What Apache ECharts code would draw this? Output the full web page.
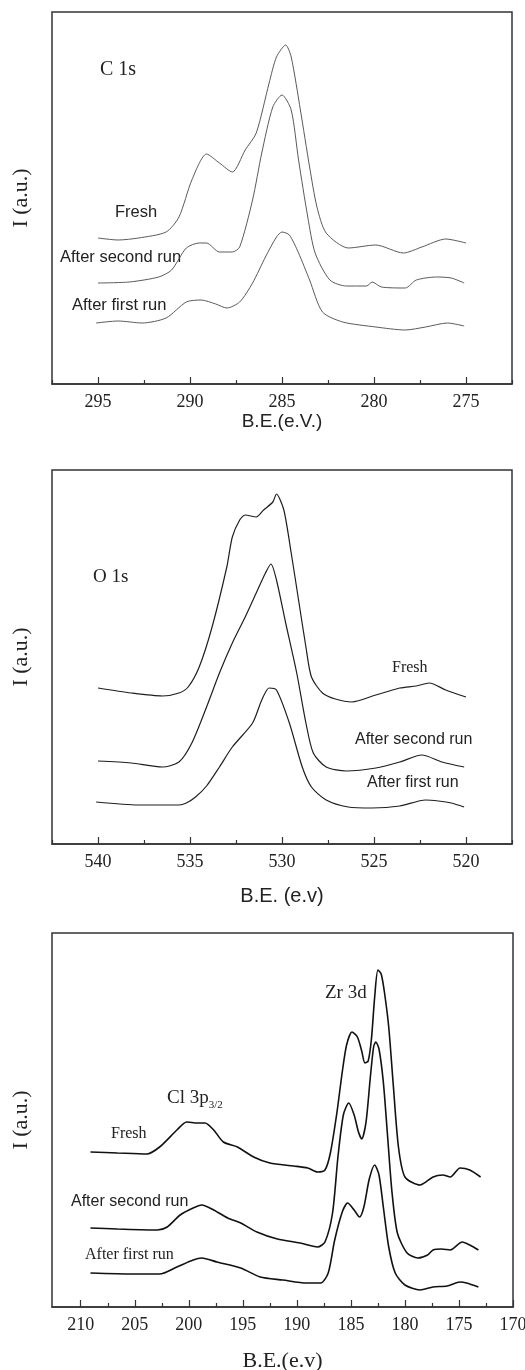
<!DOCTYPE html>
<html>
<head>
<meta charset="utf-8">
<script src="https://cdn.jsdelivr.net/npm/echarts@6/dist/echarts.min.js"></script>
<style>
  html, body { margin: 0; padding: 0; background: #fff; }
  #chart { width: 525px; height: 1370px; }
</style>
</head>
<body>
<div id="chart"></div>
<script>
// [B.E. (eV), intensity (a.u.)]
var c1sFresh = [[295.0,146],[293.9,144],[292.8,146],[291.3,152],[290.6,167],[289.9,204],[289.1,230],[288.4,221],[287.7,212],[287.0,234],[286.4,251],[285.7,301],[285.3,327],[284.8,339],[284.5,327],[284.0,274],[283.5,217],[283.1,177],[282.6,151],[281.4,136],[279.9,139],[278.4,131],[277.4,137],[276.1,145],[275.0,141]];
var c1sSecond = [[295.0,101],[293.3,102],[291.7,107],[291.0,114],[290.2,136],[289.5,141],[289.1,141],[288.4,132],[287.7,132],[287.3,137],[286.6,184],[286.1,231],[285.5,277],[285.0,289],[284.5,274],[284.1,224],[283.6,167],[283.2,131],[282.4,104],[281.5,98],[280.4,98],[280.1,102],[279.6,97],[278.3,96],[277.7,104],[276.6,107],[275.8,106],[275.1,101]];
var c1sFirst = [[295.1,61],[293.9,63],[292.6,61],[291.3,66],[290.2,82],[289.4,84],[288.6,80],[288.0,76],[287.3,82],[286.6,101],[285.9,127],[285.3,147],[285.0,152],[284.6,149],[284.1,131],[283.5,104],[282.8,72],[281.7,62],[279.9,57],[278.3,54],[277.2,57],[276.0,61],[275.1,58]];

var o1sFresh = [[540.0,156],[538.2,151],[536.5,148],[535.6,151],[535.1,157],[534.5,177],[533.8,217],[533.0,277],[532.7,307],[532.3,324],[532.0,329],[531.4,327],[531.0,334],[530.5,342],[530.3,350],[529.9,334],[529.5,291],[529.1,244],[528.7,197],[528.4,167],[527.8,151],[527.1,145],[526.2,142],[524.9,149],[523.6,156],[522.7,158],[522.0,161],[521.1,154],[520.0,147]];
var o1sSecond = [[540.0,83],[538.2,81],[536.5,77],[535.6,82],[534.9,101],[534.1,137],[533.4,171],[532.7,201],[532.0,227],[531.4,251],[530.9,271],[530.6,280],[530.3,264],[529.8,221],[529.2,171],[528.7,121],[528.3,91],[527.6,77],[526.5,73],[524.9,76],[523.6,82],[522.4,89],[521.3,82],[520.1,77]];
var o1sFirst = [[540.1,42],[537.8,39],[535.6,39],[535.2,41],[534.7,47],[534.1,58],[533.4,77],[532.7,97],[531.6,121],[531.1,144],[530.7,156],[530.3,154],[529.6,121],[528.9,77],[528.4,57],[527.6,44],[526.4,37],[525.1,36],[523.6,38],[522.2,44],[521.5,43],[520.8,41],[520.1,37]];

var zrFresh = [[209.1,155],[206.6,154],[203.9,153],[202.7,160],[201.1,177],[200.2,185],[199.2,184],[198.5,184],[197.7,177],[196.8,165],[195.5,160],[194.0,150],[192.5,144],[190.3,141],[189.0,139],[188.1,135],[187.4,137],[186.9,154],[186.3,194],[185.8,235],[185.4,262],[184.9,275],[184.4,270],[184.0,256],[183.7,244],[183.4,246],[183.1,268],[182.8,310],[182.5,337],[182.2,333],[181.9,315],[181.5,280],[181.1,225],[180.6,160],[180.0,130],[178.6,122],[177.4,130],[176.5,132],[175.8,130],[174.9,139],[174.0,137],[173.0,130]];
var zrSecond = [[209.1,79],[206.6,78],[202.9,77],[202.0,80],[200.8,92],[199.6,99],[198.8,102],[197.7,97],[196.4,89],[195.2,84],[193.7,75],[191.8,68],[189.7,64],[188.1,60],[187.4,65],[186.7,94],[186.2,150],[185.7,192],[185.2,204],[184.7,192],[184.3,175],[184.0,168],[183.6,185],[183.2,230],[182.9,260],[182.7,265],[182.4,258],[182.0,225],[181.6,170],[181.2,115],[180.7,74],[179.8,54],[178.8,49],[177.9,52],[177.4,57],[176.6,58],[175.8,57],[174.7,65],[174.0,62],[173.2,57]];
var zrFirst = [[209.1,34],[205.2,33],[202.7,33],[201.1,40],[199.6,47],[198.8,49],[197.4,45],[195.2,39],[193.4,30],[191.3,27],[189.1,24],[187.8,24],[187.1,34],[186.5,67],[185.8,95],[185.3,104],[184.7,97],[184.2,90],[183.8,100],[183.3,128],[182.8,142],[182.4,132],[182.0,100],[181.5,60],[180.9,34],[180.0,22],[178.6,17],[177.4,20],[176.1,21],[174.9,25],[174.3,24],[173.2,20]];

var c1sTicks = [295, 290, 285, 280, 275];
var c1sMinor = [297.5, 292.5, 287.5, 282.5, 277.5, 272.5];
var o1sTicks = [540, 535, 530, 525, 520];
var o1sMinor = [542.5, 537.5, 532.5, 527.5, 522.5, 517.5];
var zrTicks = [210, 205, 200, 195, 190, 185, 180, 175, 170];
var zrMinor = [207.5, 202.5, 197.5, 192.5, 187.5, 182.5, 177.5, 172.5];

var serif = '"Liberation Serif", "Times New Roman", serif';
var sans = '"Liberation Sans", Arial, sans-serif';

var dom = document.getElementById('chart');
var myChart = echarts.init(dom, null, { renderer: 'canvas' });

function mainX(grid, min, max, ticks, name, nameFont, nameSize, nameGap) {
  return {
    type: 'value', gridIndex: grid, inverse: true, min: min, max: max, position: 'bottom',
    name: name, nameLocation: 'middle', nameGap: nameGap,
    nameTextStyle: { fontFamily: nameFont, fontSize: nameSize, color: '#222' },
    axisLine: { show: true, onZero: false, lineStyle: { color: '#333', width: 1.5 } },
    axisTick: { show: true, inside: true, length: 7, customValues: ticks, lineStyle: { color: '#333', width: 1.2 } },
    axisLabel: { show: true, customValues: ticks, margin: 9, fontFamily: serif, fontSize: 18, color: '#222' },
    splitLine: { show: false }
  };
}
function minorX(grid, min, max, ticks) {
  return {
    type: 'value', gridIndex: grid, inverse: true, min: min, max: max, position: 'bottom',
    axisLine: { show: false },
    axisTick: { show: true, inside: true, length: 4, customValues: ticks, lineStyle: { color: '#333', width: 1.2 } },
    axisLabel: { show: false },
    splitLine: { show: false }
  };
}
function yAx(grid, max) {
  return {
    type: 'value', gridIndex: grid, min: 0, max: max,
    name: 'I (a.u.)', nameLocation: 'middle', nameRotate: 90, nameGap: 20,
    nameTextStyle: { fontFamily: serif, fontSize: 22, color: '#222' },
    axisLine: { show: false }, axisTick: { show: false }, axisLabel: { show: false },
    splitLine: { show: false }
  };
}
function line(data, xi, yi, color, width) {
  return {
    type: 'line', data: data, xAxisIndex: xi, yAxisIndex: yi,
    showSymbol: false, smooth: 0.25, silent: true,
    lineStyle: { color: color, width: width }
  };
}
function label(text, x, y, font, size) {
  return {
    type: 'text', x: x, y: y,
    style: { text: text, fontFamily: font, fontSize: size, fill: '#222', textAlign: 'left', textVerticalAlign: 'middle' }
  };
}

var gridBox = { show: true, borderColor: '#333', borderWidth: 1.5, backgroundColor: 'transparent', outerBoundsMode: 'none', containLabel: false };

var option = {
  animation: false,
  backgroundColor: '#fff',
  grid: [
    Object.assign({ left: 52, width: 460, top: 12, height: 372 }, gridBox),
    Object.assign({ left: 52, width: 460, top: 470, height: 374 }, gridBox),
    Object.assign({ left: 52, width: 461, top: 933, height: 374 }, gridBox)
  ],
  xAxis: [
    mainX(0, 272.5, 297.5, c1sTicks, 'B.E.(e.V.)', sans, 19, 27),
    mainX(1, 517.5, 542.5, o1sTicks, 'B.E. (e.v)', sans, 20, 42),
    mainX(2, 170, 212.66, zrTicks, 'B.E.(e.v)', serif, 22, 43),
    minorX(0, 272.5, 297.5, c1sMinor),
    minorX(1, 517.5, 542.5, o1sMinor),
    minorX(2, 170, 212.66, zrMinor)
  ],
  yAxis: [yAx(0, 372), yAx(1, 374), yAx(2, 374)],
  series: [
    line(c1sFresh, 0, 0, '#5a5a5a', 1),
    line(c1sSecond, 0, 0, '#5a5a5a', 1),
    line(c1sFirst, 0, 0, '#5a5a5a', 1),
    line(o1sFresh, 1, 1, '#1e1e1e', 1.2),
    line(o1sSecond, 1, 1, '#1e1e1e', 1.2),
    line(o1sFirst, 1, 1, '#1e1e1e', 1.2),
    line(zrFresh, 2, 2, '#111', 1.6),
    line(zrSecond, 2, 2, '#111', 1.6),
    line(zrFirst, 2, 2, '#111', 1.6)
  ],
  graphic: [
    label('C 1s', 100, 70, serif, 20),
    label('Fresh', 115, 212, sans, 16.5),
    label('After second run', 60, 257, sans, 16.5),
    label('After first run', 72, 305, sans, 16.5),
    label('O 1s', 93, 577, serif, 19),
    label('Fresh', 392, 668, serif, 16),
    label('After second run', 355, 740, sans, 16),
    label('After first run', 367, 783, sans, 16),
    label('Zr 3d', 325, 993, serif, 19),
    {
      type: 'text', x: 167, y: 1098,
      style: {
        text: '{a|Cl 3p}{s|3/2}', textAlign: 'left', textVerticalAlign: 'middle',
        rich: {
          a: { fontFamily: serif, fontSize: 19, fill: '#222', lineHeight: 26, verticalAlign: 'middle' },
          s: { fontFamily: serif, fontSize: 11, fill: '#222', lineHeight: 26, verticalAlign: 'bottom' }
        }
      }
    },
    label('Fresh', 111, 1134, serif, 16),
    label('After second run', 71, 1202, sans, 16),
    label('After first run', 85, 1255, serif, 16)
  ]
};

myChart.setOption(option);
window.addEventListener('resize', myChart.resize);
</script>
</body>
</html>
